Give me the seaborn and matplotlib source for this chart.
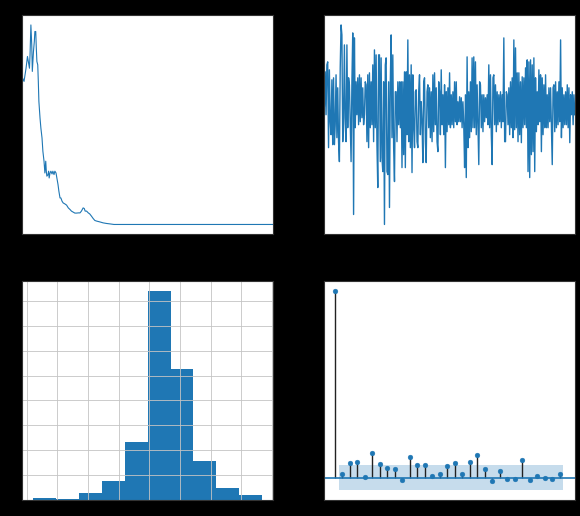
import numpy as np
import matplotlib
matplotlib.use("Agg")
import matplotlib.pyplot as plt
from matplotlib.ticker import MultipleLocator
import seaborn as sns

BLUE = "#1f77b4"

# top-left: price series (day index, price)
price_days = [0, 2, 7, 14, 19, 22, 26, 28, 31, 34, 36, 40, 43, 45, 48, 50, 52, 55,
              57, 59, 63, 66, 70, 73, 77, 80, 83, 85, 87, 91, 93, 95, 98, 101, 105,
              108, 112, 115, 119, 122, 126, 129, 133, 136, 140, 144, 150, 156, 162,
              168, 173, 179, 185, 191, 197, 203, 208, 214, 218, 221, 226, 232, 237,
              243, 249, 255, 261, 272, 284, 296, 307, 322, 340, 400, 500, 600, 700,
              800, 880]
price = [69.3, 74.3, 72.7, 79.3, 85.2, 82.7, 79.3, 86.0, 101.0, 91.0, 77.7, 87.7,
         92.7, 97.7, 97.7, 89.3, 82.7, 81.0, 72.7, 62.7, 54.3, 49.3, 44.3, 37.7,
         32.7, 26.8, 32.7, 27.7, 25.2, 26.0, 27.7, 24.3, 26.8, 27.7, 26.3, 27.7,
         26.0, 27.7, 26.8, 24.3, 21.0, 17.7, 14.3, 14.3, 12.7, 11.8, 11.3, 10.7,
         9.3, 8.5, 7.7, 7.2, 6.7, 6.7, 6.8, 6.8, 7.7, 9.3, 9.0, 7.7, 7.7, 6.8, 6.3,
         5.2, 4.0, 3.0, 2.7, 2.3, 1.8, 1.5, 1.3, 1.0, 1.0, 1.0, 1.0, 1.0, 1.0, 1.0,
         1.0]

# top-right: daily returns
returns = [
    32, 3, 38, -5, 45, 48, -38, 40, -12, -25, 30, -35, 32, -35, -15, 35, -28, 22,
    -32, -52, 42, 85, 75, -32, -8, 65, -15, -32, 65, -18, 32, 25, -12, -52, 28,
    77, -105, 72, -18, 28, -5, 32, -15, 35, -12, 32, -8, 22, -15, -5, 28, 25,
    -32, 35, -38, 37, -18, 28, -15, 45, -32, 60, -18, 55, -35, -78, 55, 55, -52,
    52, -48, -62, 28, -115, 45, 52, -62, -65, 28, -98, 28, 75, -28, 55, -38, -72,
    18, 18, -32, 28, -15, 28, -18,
    28, -58, 28, -45, 38, -58, 38, -25, 70, -32, 35, -38, 45, -63, 35, -18, -38,
    18, 20, -32, -38, 18, 35, -25, 8, -12, -53, 28, 32, -32, -53, 18, 25, -18,
    22, -28, 18, -32, 35, -22, 37, -15, 22, -32, -42, 28, 18, -25, 40, -15, 15,
    -25, 25, -58, 18, -22, 22, -15, 37, -18, 15, -15, 18, -18, 28, -12, 28, -15,
    8, -12, 13, -12, 12, -18, 8, -15, -58, 15, -68, 53, -38, 18, -28, 28, -22,
    52, -18, 53, -18, 48, -25, 25, -15, -55, 28, 25, -18, 15, -22, 15, -12, 12,
    -8,
    15, -15, 45, -18, 35, -25, -55, 32, 35, -15, 25, -22, 18, -15, 15, -12, 18,
    -18, 15, -12, 72, -32, -32, 18, 15, -15, 22, -25, 28, -18, 32, -28, 70, -20,
    62, -18, 37, -32, 37, -25, 28, -33, 33, -18, 32, -15, 42, -18, 50, -62, 48,
    -68, 50, -45, 45, -42, 52, -62, 32, -22, 18, -15, 40, -12, 35, -42, 32, -25,
    25, -18, 35, -18, 15, -18, 22, -12, 22, -15, -55, 22, 25, -22, 28, -18, 18,
    -15, 28, -12, 70, -28, 22, -18, 15, -15, 18, -15, 25, -18, 22, -33, 15, -5,
    18, -15, 15, -5,
]

# bottom-left: histogram of returns
bin_edges = [-0.378, -0.304, -0.229, -0.155, -0.080, -0.006, 0.069, 0.143,
             0.218, 0.292, 0.367]
bin_counts = [4, 2, 15, 38, 116, 420, 263, 79, 24, 10]

# bottom-right: autocorrelation
lags = list(range(31))
acf = [1.0, 0.018, 0.077, 0.085, 0.004, 0.13, 0.071, 0.053, 0.044, -0.012,
       0.11, 0.068, 0.068, 0.007, 0.021, 0.064, 0.077, 0.021, 0.085, 0.119,
       0.048, -0.018, 0.037, -0.007, -0.007, 0.094, -0.012, 0.007, 0.0, -0.009,
       0.021]
conf_half = 0.066

fig, axes = plt.subplots(2, 2, figsize=(5.8, 5.16), dpi=100)
fig.patch.set_facecolor("black")
fig.subplots_adjust(left=0.038, right=0.991, bottom=0.031, top=0.971,
                    wspace=0.2, hspace=0.21)

ax = axes[0, 0]
sns.lineplot(x=price_days, y=price, ax=ax, color=BLUE, linewidth=0.8)
ax.set_xlim(price_days[0], price_days[-1])

ax = axes[0, 1]
idx = np.arange(len(returns))
sns.lineplot(x=idx, y=returns, ax=ax, color=BLUE, linewidth=1.0)
ax.set_xlim(idx[0], idx[-1])

ax = axes[1, 0]
centers = [(a + b) / 2 for a, b in zip(bin_edges[:-1], bin_edges[1:])]
sns.histplot(x=centers, weights=bin_counts, bins=bin_edges, ax=ax,
             color=BLUE, alpha=1, edgecolor="none", linewidth=0)
ax.xaxis.set_major_locator(MultipleLocator(0.1))
ax.yaxis.set_major_locator(MultipleLocator(50))
ax.grid(True, color="#c4c4c4", linewidth=0.6)

ax = axes[1, 1]
band_x = [l for l in lags[1:]]
band_x[0] -= 0.5
band_x[-1] += 0.5
ax.fill_between(band_x, [-conf_half] * len(band_x), [conf_half] * len(band_x),
                color=BLUE, alpha=0.25, linewidth=0)
ax.vlines(lags, 0, acf, color="#222222", linewidth=1)
ax.axhline(0, color=BLUE, linewidth=1.2)
sns.scatterplot(x=lags, y=acf, ax=ax, color=BLUE, s=12, edgecolor=BLUE,
                zorder=3)

# tick labels stay black, so they sink into the black background like the original
for a in axes.flat:
    a.set_xlabel("")
    a.set_ylabel("")
    for s in a.spines.values():
        s.set_color("#333333")

fig.savefig("out.png", dpi=100, facecolor="black")
